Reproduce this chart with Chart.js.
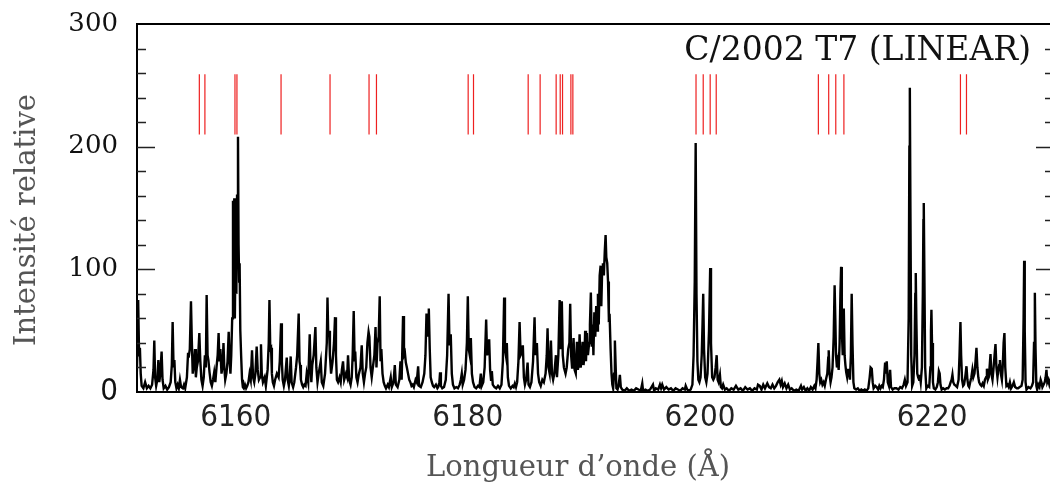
<!DOCTYPE html>
<html><head><meta charset="utf-8">
<script src="https://cdn.jsdelivr.net/npm/chart.js@4/dist/chart.umd.min.js"></script>
<style>html,body{margin:0;padding:0;overflow:hidden;background:#fff}canvas{display:block}</style>
</head><body>
<canvas id="c" width="1056" height="485" style="width:1056px;height:485px"></canvas>
<script>
const chartTitle = 'C/2002 T7 (LINEAR)';
const xAxisTitle = 'Longueur d’onde (Å)';
const yAxisTitle = 'Intensité relative';
const xTicks = [6160, 6180, 6200, 6220];
const yTicks = [0, 100, 200, 300];
const yMinorTicks = [20, 40, 60, 80, 120, 140, 160, 180, 220, 240, 260, 280];
const xRange = [6151.5, 6230.5];
const yRange = [0, 300];
const markerLines = [6156.87, 6157.35, 6159.94, 6160.11, 6163.91, 6168.13, 6171.49, 6172.13,
  6180.03, 6180.49, 6185.20, 6186.23, 6187.61, 6187.96, 6188.16, 6188.88, 6189.05,
  6199.66, 6200.28, 6200.88, 6201.40, 6210.20, 6211.09, 6211.70, 6212.40, 6222.44, 6222.96];
const markerLow = 210, markerHigh = 259;

const spec1 = [[6151.47,10],[6151.55,40],[6151.6,75],[6151.68,30],[6151.75,36],[6151.82,15],[6151.9,5],[6152.05,3],[6152.2,8],[6152.35,3],[6152.5,5],[6152.65,3],[6152.8,6],[6152.92,18],[6152.99,42],[6153.06,12],[6153.15,5],[6153.25,10],[6153.34,26],[6153.42,8],[6153.5,14],[6153.62,33],[6153.7,10],[6153.8,3],[6153.95,5],[6154.1,2],[6154.25,4],[6154.4,8],[6154.5,22],[6154.57,57],[6154.65,20],[6154.72,26],[6154.8,8],[6154.9,3],[6155.0,6],[6155.1,3],[6155.2,10],[6155.3,4],[6155.45,3],[6155.55,6],[6155.65,3],[6155.8,12],[6155.9,32],[6155.95,28],[6156.05,35],[6156.15,74],[6156.22,43],[6156.3,15],[6156.4,22],[6156.5,35],[6156.57,12],[6156.65,20],[6156.75,25],[6156.87,48],[6156.95,26],[6157.05,10],[6157.15,5],[6157.25,12],[6157.35,30],[6157.43,20],[6157.5,79],[6157.58,30],[6157.65,26],[6157.75,16],[6157.85,8],[6157.95,5],[6158.05,10],[6158.15,16],[6158.25,8],[6158.35,20],[6158.45,30],[6158.53,48],[6158.6,25],[6158.68,35],[6158.78,15],[6158.88,22],[6158.95,40],[6159.02,20],[6159.1,10],[6159.2,15],[6159.3,25],[6159.4,49],[6159.47,26],[6159.55,15],[6159.62,30],[6159.7,60],[6159.77,156],[6159.83,100],[6159.88,158],[6159.93,60],[6160.0,130],[6160.06,80],[6160.12,160],[6160.2,208],[6160.25,120],[6160.3,90],[6160.34,105],[6160.4,50],[6160.47,30],[6160.55,10],[6160.62,4],[6160.7,3],[6160.8,6],[6160.9,3],[6161.0,5],[6161.1,8],[6161.2,15],[6161.3,10],[6161.41,34],[6161.5,12],[6161.6,8],[6161.7,15],[6161.81,37],[6161.9,18],[6162.0,10],[6162.1,12],[6162.18,39],[6162.25,15],[6162.35,8],[6162.5,12],[6162.6,5],[6162.75,18],[6162.85,40],[6162.91,75],[6162.98,35],[6163.05,36],[6163.12,15],[6163.2,8],[6163.3,5],[6163.4,10],[6163.55,15],[6163.7,12],[6163.8,25],[6163.91,56],[6163.98,25],[6164.05,10],[6164.15,5],[6164.25,10],[6164.4,28],[6164.48,10],[6164.58,5],[6164.66,12],[6164.74,29],[6164.82,8],[6164.95,4]];

const spec2 = [[6165.05,8],[6165.2,20],[6165.3,30],[6165.43,64],[6165.5,25],[6165.55,22],[6165.62,10],[6165.72,6],[6165.82,4],[6165.92,6],[6166.02,5],[6166.12,15],[6166.25,8],[6166.38,47],[6166.45,20],[6166.52,8],[6166.6,22],[6166.72,30],[6166.87,53],[6166.95,20],[6167.05,8],[6167.15,15],[6167.33,25],[6167.42,8],[6167.55,5],[6167.7,15],[6167.85,40],[6167.91,77],[6167.98,45],[6168.05,50],[6168.12,30],[6168.22,15],[6168.35,25],[6168.47,40],[6168.56,61],[6168.64,30],[6168.72,10],[6168.82,8],[6168.95,12],[6169.05,8],[6169.15,18],[6169.25,25],[6169.35,10],[6169.5,15],[6169.6,12],[6169.68,30],[6169.78,10],[6169.9,6],[6170.0,12],[6170.08,30],[6170.17,66],[6170.25,25],[6170.3,33],[6170.4,12],[6170.5,8],[6170.6,14],[6170.75,20],[6170.86,38],[6170.95,15],[6171.05,8],[6171.15,15],[6171.25,20],[6171.35,40],[6171.45,49],[6171.52,45],[6171.62,20],[6171.72,12],[6171.82,20],[6171.95,30],[6172.05,53],[6172.13,20],[6172.22,40],[6172.32,45],[6172.41,78],[6172.48,25],[6172.55,35],[6172.65,15],[6172.75,8],[6172.85,5],[6172.95,3],[6173.1,6],[6173.2,4],[6173.36,12],[6173.45,4],[6173.6,8],[6173.71,22],[6173.8,6],[6173.95,4],[6174.1,10],[6174.2,25],[6174.3,10],[6174.42,62],[6174.5,30],[6174.58,32],[6174.66,24],[6174.75,20],[6174.85,15],[6174.95,10],[6175.05,8],[6175.15,5],[6175.25,6],[6175.35,4],[6175.5,10],[6175.6,8],[6175.72,21],[6175.8,5],[6175.95,4],[6176.1,8],[6176.25,15],[6176.35,30],[6176.44,64],[6176.52,45],[6176.58,62],[6176.64,68],[6176.72,35],[6176.8,12],[6176.9,8],[6177.0,5],[6177.1,4],[6177.25,6],[6177.38,3]];

const spec3 = [[6177.45,4],[6177.55,8],[6177.61,16],[6177.68,5],[6177.8,3],[6177.95,4],[6178.1,10],[6178.22,30],[6178.34,80],[6178.42,38],[6178.53,47],[6178.62,15],[6178.72,6],[6178.85,3],[6179.0,4],[6179.15,3],[6179.3,6],[6179.4,10],[6179.48,15],[6179.56,6],[6179.68,10],[6179.8,18],[6179.92,40],[6180.0,78],[6180.08,35],[6180.17,30],[6180.26,44],[6180.35,15],[6180.45,8],[6180.58,4],[6180.72,3],[6180.88,5],[6181.0,4],[6181.12,15],[6181.2,5],[6181.33,8],[6181.45,20],[6181.58,59],[6181.66,30],[6181.75,35],[6181.84,43],[6181.92,18],[6182.0,10],[6182.07,17],[6182.15,6],[6182.3,4],[6182.45,3],[6182.6,5],[6182.75,3],[6182.9,6],[6183.02,25],[6183.13,77],[6183.2,35],[6183.28,30],[6183.36,40],[6183.45,12],[6183.55,5],[6183.7,3],[6183.85,5],[6183.95,4],[6184.05,7],[6184.15,4],[6184.25,8],[6184.36,25],[6184.46,57],[6184.55,30],[6184.65,32],[6184.74,38],[6184.83,12],[6184.92,6],[6185.02,10],[6185.15,24],[6185.23,6],[6185.35,4],[6185.48,8],[6185.62,25],[6185.75,61],[6185.82,30],[6185.88,35],[6185.95,40],[6186.05,15],[6186.15,8],[6186.28,5],[6186.42,10],[6186.55,8],[6186.7,15],[6186.8,30],[6186.87,52],[6186.95,20],[6187.05,15],[6187.16,42],[6187.25,15],[6187.35,10],[6187.45,15],[6187.59,30],[6187.68,12],[6187.8,30],[6187.91,75],[6187.98,35],[6188.05,40],[6188.1,74],[6188.18,30],[6188.28,20],[6188.42,15],[6188.52,20],[6188.65,35],[6188.75,40],[6188.82,72],[6188.9,30],[6188.98,20],[6189.05,30],[6189.11,44],[6189.2,18],[6189.3,15],[6189.4,41],[6189.48,18],[6189.55,22],[6189.63,47],[6189.72,20],[6189.8,25],[6189.89,41],[6189.97,22],[6190.05,30],[6190.11,50],[6190.18,25],[6190.26,48],[6190.35,30],[6190.45,40],[6190.52,55],[6190.6,81]];

const spec4 = [[6190.68,37],[6190.75,55],[6190.82,30],[6190.9,65],[6190.98,45],[6191.06,70],[6191.14,50],[6191.21,80],[6191.28,55],[6191.36,95],[6191.44,103],[6191.5,70],[6191.57,98],[6191.64,105],[6191.72,95],[6191.8,115],[6191.87,128],[6191.93,110],[6192.01,105],[6192.08,90],[6192.15,60],[6192.22,61],[6192.3,35],[6192.38,15],[6192.45,6],[6192.52,3],[6192.6,15],[6192.67,42],[6192.74,20],[6192.8,3],[6192.9,2],[6193.0,6],[6193.1,14],[6193.18,4],[6193.3,2],[6193.5,1],[6193.7,3],[6193.9,1],[6194.1,2],[6194.3,1],[6194.5,3],[6194.7,2],[6194.9,1],[6195.03,7],[6195.1,1],[6195.3,2],[6195.5,1],[6195.7,2],[6195.95,6],[6196.05,1],[6196.2,3],[6196.4,2],[6196.55,6],[6196.65,3],[6196.75,6],[6196.9,2],[6197.1,4],[6197.3,2],[6197.5,3],[6197.7,1],[6197.9,3],[6198.1,2],[6198.3,1],[6198.5,3],[6198.7,2],[6198.77,5],[6198.9,2],[6199.05,1],[6199.2,2],[6199.35,6],[6199.45,30],[6199.55,90],[6199.63,203],[6199.7,80],[6199.78,25],[6199.86,10],[6199.95,8],[6200.05,12],[6200.15,30],[6200.22,55],[6200.28,80],[6200.35,35],[6200.45,12],[6200.55,8],[6200.65,15],[6200.78,50],[6200.88,101],[6200.95,40],[6201.05,12],[6201.15,10],[6201.25,12],[6201.35,20],[6201.44,30],[6201.52,10],[6201.6,8],[6201.72,14],[6201.8,4],[6201.9,3],[6202.0,6],[6202.15,2],[6202.3,3],[6202.5,1],[6202.7,3],[6202.9,2],[6203.1,5],[6203.3,2],[6203.5,3],[6203.7,1],[6203.9,4],[6204.1,2],[6204.3,3],[6204.5,1],[6204.7,3],[6204.9,2],[6205.0,6],[6205.15,5],[6205.3,2],[6205.45,6],[6205.6,3],[6205.8,7],[6205.95,4],[6206.1,3],[6206.25,6],[6206.4,3],[6206.55,5],[6206.7,8],[6206.84,10],[6206.95,6],[6207.05,9],[6207.15,4],[6207.3,7],[6207.45,3],[6207.6,6],[6207.75,2],[6207.9,3],[6208.1,1],[6208.3,2],[6208.5,1],[6208.7,5],[6208.8,2],[6208.95,4],[6209.1,1]];

const spec5 = [[6209.25,3],[6209.4,1],[6209.55,4],[6209.7,2],[6209.85,5],[6209.95,3],[6210.05,10],[6210.13,25],[6210.2,40],[6210.28,15],[6210.36,8],[6210.45,10],[6210.55,6],[6210.65,8],[6210.75,5],[6210.85,10],[6210.97,15],[6211.05,28],[6211.09,34],[6211.16,15],[6211.25,8],[6211.33,12],[6211.42,20],[6211.52,45],[6211.6,87],[6211.66,60],[6211.72,30],[6211.8,20],[6211.88,25],[6211.95,18],[6212.03,40],[6212.1,80],[6212.16,102],[6212.22,50],[6212.3,30],[6212.39,68],[6212.46,30],[6212.53,22],[6212.6,16],[6212.68,12],[6212.76,18],[6212.84,18],[6212.92,10],[6213.0,30],[6213.07,80],[6213.14,40],[6213.22,8],[6213.3,3],[6213.45,2],[6213.6,3],[6213.75,1],[6213.9,2],[6214.05,1],[6214.2,2],[6214.35,1],[6214.5,3],[6214.62,12],[6214.7,20],[6214.8,19],[6214.88,8],[6214.96,3],[6215.1,5],[6215.22,4],[6215.35,2],[6215.45,5],[6215.55,3],[6215.65,5],[6215.75,4],[6215.85,10],[6215.95,24],[6216.02,15],[6216.09,25],[6216.18,8],[6216.28,5],[6216.38,18],[6216.46,4],[6216.6,2],[6216.75,3],[6216.92,3]];

const spec6 = [[6217.1,2],[6217.25,4],[6217.4,3],[6217.55,6],[6217.65,10],[6217.75,5],[6217.88,8],[6217.98,60],[6218.04,200],[6218.08,248],[6218.13,150],[6218.2,30],[6218.28,5],[6218.38,8],[6218.48,30],[6218.55,80],[6218.59,97],[6218.64,60],[6218.72,15],[6218.8,12],[6218.88,10],[6218.94,14],[6219.02,8],[6219.12,20],[6219.2,80],[6219.25,140],[6219.28,154],[6219.33,100],[6219.4,20],[6219.5,3],[6219.6,5],[6219.75,4],[6219.85,20],[6219.9,50],[6219.94,67],[6219.99,40],[6220.07,8],[6220.15,3],[6220.28,2],[6220.4,4],[6220.5,8],[6220.58,17],[6220.65,15],[6220.72,6],[6220.82,2],[6220.95,3],[6221.1,2],[6221.25,3],[6221.38,3],[6221.5,5],[6221.6,8],[6221.68,10],[6221.75,14],[6221.82,8],[6221.92,6],[6222.05,5],[6222.15,4],[6222.28,10],[6222.36,30],[6222.44,57],[6222.5,30],[6222.58,10],[6222.67,5],[6222.75,6],[6222.85,12],[6222.96,21],[6223.04,10],[6223.12,5],[6223.19,4],[6223.28,8],[6223.38,12],[6223.47,18],[6223.55,12],[6223.65,15],[6223.74,25],[6223.82,36],[6223.9,20],[6223.98,12],[6224.05,8],[6224.15,6],[6224.25,5],[6224.35,7],[6224.45,5],[6224.55,10],[6224.65,12],[6224.72,19],[6224.8,10],[6224.88,12],[6224.95,20],[6225.03,31],[6225.1,15],[6225.2,10],[6225.28,18],[6225.38,30],[6225.46,39],[6225.54,20],[6225.63,12],[6225.7,18],[6225.78,22],[6225.84,26],[6225.92,15],[6226.01,10],[6226.08,20],[6226.16,40],[6226.23,48],[6226.3,20],[6226.4,5],[6226.5,6],[6226.6,4],[6226.7,8],[6226.8,3],[6226.92,5],[6227.04,8],[6227.15,4],[6227.3,3],[6227.41,3],[6227.55,4],[6227.7,5],[6227.8,10],[6227.88,60],[6227.93,107],[6227.98,50],[6228.05,8],[6228.13,2],[6228.3,4],[6228.47,3],[6228.6,5],[6228.7,8],[6228.78,40],[6228.85,81],[6228.91,35],[6228.98,5],[6229.05,2],[6229.15,6],[6229.25,4],[6229.35,10],[6229.42,8],[6229.5,4],[6229.6,6],[6229.7,8],[6229.78,12],[6229.85,18],[6229.92,8],[6230.0,10],[6230.1,6],[6230.25,12],[6230.4,5]];

const spectrum = [...spec1, ...spec2, ...spec3, ...spec4, ...spec5, ...spec6].map(([x, y]) => ({x, y}));
const markers = markerLines.flatMap(l => [{x: l, y: markerLow}, {x: l, y: markerHigh}, {x: l, y: null}]);

const serif = "'DejaVu Serif', serif";
const narrow = "'Liberation Sans Narrow', 'DejaVu Sans Condensed', sans-serif";

const framePlugin = {
  id: 'frame',
  afterDraw(chart) {
    const {ctx, chartArea: a, scales: {y}} = chart;
    ctx.save();
    ctx.strokeStyle = '#000';
    ctx.lineWidth = 2;
    ctx.beginPath();
    ctx.moveTo(a.left - 1, a.top); ctx.lineTo(a.right, a.top);
    ctx.moveTo(a.right, a.top); ctx.lineTo(a.right, a.bottom);
    ctx.stroke();
    ctx.lineWidth = 1.6;
    ctx.strokeStyle = '#222';
    ctx.beginPath();
    const drawTick = (v, len) => {
      const py = Math.round(y.getPixelForValue(v)) + 0.5;
      ctx.moveTo(a.left, py); ctx.lineTo(a.left + len, py);
      ctx.moveTo(a.right - len, py); ctx.lineTo(a.right, py);
    };
    yTicks.filter(v => v > yRange[0] && v < yRange[1]).forEach(v => drawTick(v, 18));
    yMinorTicks.forEach(v => drawTick(v, 9));
    ctx.stroke();
    ctx.fillStyle = '#111';
    ctx.font = "33px " + serif;
    ctx.textAlign = 'right';
    ctx.textBaseline = 'alphabetic';
    ctx.fillText(chartTitle, 1031, 60);
    ctx.fillStyle = '#555';
    ctx.font = "29px " + serif;
    ctx.textAlign = 'center';
    ctx.fillText(xAxisTitle, 578, 476);
    ctx.translate(35, 220);
    ctx.rotate(-Math.PI / 2);
    ctx.fillText(yAxisTitle, 0, 0);
    ctx.restore();
  }
};

new Chart(document.getElementById('c'), {
  type: 'scatter',
  data: {
    datasets: [
      {data: spectrum, showLine: true, borderColor: '#000', borderWidth: 2.4, pointRadius: 0, tension: 0, order: 2},
      {data: markers, showLine: true, borderColor: '#ee2020', borderWidth: 1.2, pointRadius: 0, spanGaps: false, order: 1}
    ]
  },
  options: {
    responsive: false,
    devicePixelRatio: 1,
    animation: false,
    events: [],
    layout: {padding: {left: 0, top: 24, right: 2, bottom: 0}},
    plugins: {legend: {display: false}, tooltip: {enabled: false}},
    scales: {
      x: {
        type: 'linear', min: xRange[0], max: xRange[1],
        afterBuildTicks: s => { s.ticks = xTicks.map(v => ({value: v})); },
        afterFit: s => { s.height = 93; s.paddingLeft = 0; s.paddingRight = 0; },
        grid: {display: false, drawTicks: false},
        border: {display: true, color: '#000', width: 2},
        ticks: {padding: 10, color: '#222', maxRotation: 0, autoSkip: false,
          callback: v => String(v),
          font: {family: narrow, size: 31, lineHeight: 1}}
      },
      y: {
        type: 'linear', min: yRange[0], max: yRange[1],
        afterBuildTicks: s => { s.ticks = yTicks.map(v => ({value: v})); },
        afterFit: s => { s.width = 137; s.paddingTop = 0; s.paddingBottom = 0; },
        grid: {display: false, drawTicks: false},
        border: {display: true, color: '#000', width: 2},
        ticks: {padding: 19, color: '#111', autoSkip: false,
          callback: v => String(v),
          font: ctx => (ctx.tick && ctx.tick.value === 0)
            ? {family: narrow, size: 31, lineHeight: 1}
            : {family: serif, size: 26, lineHeight: 1}}
      }
    }
  },
  plugins: [framePlugin]
});
</script>
</body></html>
